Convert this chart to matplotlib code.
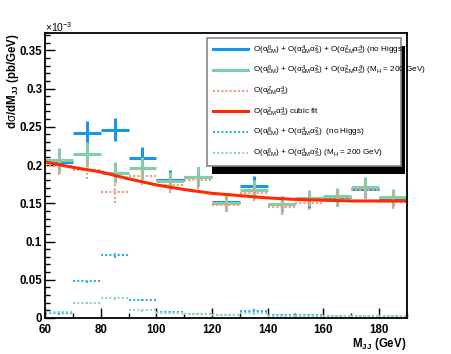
import matplotlib
matplotlib.use("Agg")
import matplotlib.pyplot as plt
from matplotlib.lines import Line2D
from matplotlib.patches import Rectangle
from matplotlib.ticker import MultipleLocator, FuncFormatter

plt.rcParams['font.family'] = ['Liberation Sans', 'DejaVu Sans']
plt.rcParams['mathtext.fontset'] = 'custom'
plt.rcParams['mathtext.rm'] = 'Liberation Sans'
plt.rcParams['mathtext.it'] = 'Liberation Sans'
plt.rcParams['mathtext.bf'] = 'Liberation Sans:bold'

# bins of M_JJ (GeV), values in units of 1e-3 pb/GeV
bin_lo = [60, 70, 80, 90, 100, 110, 120, 130, 140, 150, 160, 170, 180]
bin_w = 10

full_nohiggs = [0.204, 0.242, 0.246, 0.209, 0.181, 0.185, 0.152, 0.173, 0.149, 0.155, 0.158, 0.169, 0.157]
full_nohiggs_err = [0.013, 0.015, 0.015, 0.014, 0.012, 0.012, 0.011, 0.013, 0.011, 0.011, 0.011, 0.012, 0.011]
full_mh200 = [0.206, 0.214, 0.190, 0.196, 0.179, 0.185, 0.151, 0.168, 0.149, 0.157, 0.159, 0.171, 0.158]
full_mh200_err = [0.016, 0.016, 0.014, 0.014, 0.012, 0.012, 0.011, 0.012, 0.011, 0.011, 0.011, 0.013, 0.011]
qcd = [0.199, 0.194, 0.165, 0.186, 0.174, 0.180, 0.148, 0.164, 0.145, 0.151, 0.156, 0.167, 0.152]
qcd_err = [0.012, 0.012, 0.014, 0.012, 0.011, 0.011, 0.010, 0.011, 0.010, 0.010, 0.010, 0.011, 0.010]
fit_x = [60, 70, 80, 90, 100, 110, 120, 130, 140, 150, 160, 170, 180, 190]
fit_y = [0.204, 0.197, 0.191, 0.182, 0.174, 0.168, 0.163, 0.160, 0.157, 0.155, 0.154, 0.153, 0.153, 0.153]
ew_nohiggs = [0.006, 0.048, 0.082, 0.024, 0.008, 0.005, 0.004, 0.009, 0.004, 0.004, 0.003, 0.002, 0.003]
ew_nohiggs_err = [0.002, 0.002, 0.003, 0.002, 0.001, 0.001, 0.001, 0.005, 0.001, 0.001, 0.001, 0.001, 0.001]
ew_mh200 = [0.008, 0.020, 0.026, 0.010, 0.0065, 0.005, 0.004, 0.006, 0.003, 0.003, 0.003, 0.003, 0.003]
ew_mh200_err = [0.002, 0.002, 0.002, 0.002, 0.001, 0.001, 0.001, 0.002, 0.001, 0.001, 0.001, 0.001, 0.001]

labels = [
    r"O($\alpha^{6}_{EM}$) + O($\alpha^{4}_{EM}\alpha^{2}_{S}$) + O($\alpha^{2}_{EM}\alpha^{4}_{S}$) (no Higgs)",
    r"O($\alpha^{6}_{EM}$) + O($\alpha^{4}_{EM}\alpha^{2}_{S}$) + O($\alpha^{2}_{EM}\alpha^{4}_{S}$) (M$_{H}$ = 200 GeV)",
    r"O($\alpha^{2}_{EM}\alpha^{4}_{S}$)",
    r"O($\alpha^{2}_{EM}\alpha^{4}_{S}$) cubic fit",
    r"O($\alpha^{6}_{EM}$) + O($\alpha^{4}_{EM}\alpha^{2}_{S}$)  (no Higgs)",
    r"O($\alpha^{6}_{EM}$) + O($\alpha^{4}_{EM}\alpha^{2}_{S}$) (M$_{H}$ = 200 GeV)",
]

c_blue = '#1597ee'
c_green = '#7fcfa8'
c_salmon = '#f49a82'
c_red = '#ff2a00'
c_blue2 = '#36a8f2'
c_green2 = '#93d7b6'
dots = (0, (1, 1))

fig = plt.figure(figsize=(4.52, 3.54), dpi=100)
ax = fig.add_axes([0.0996, 0.1017, 0.8004, 0.8037])

xc = [b + bin_w / 2 for b in bin_lo]


def hist_err(y, err, color, lw, style):
    eb = ax.errorbar(xc, y, xerr=bin_w / 2, yerr=err, fmt='none', ecolor=color,
                     elinewidth=lw, capsize=0)
    for lc in eb[2]:
        lc.set_linestyle(style)
        lc.set_capstyle('butt')


hist_err(full_nohiggs, full_nohiggs_err, c_blue, 2.2, '-')
hist_err(full_mh200, full_mh200_err, c_green, 2.2, '-')
hist_err(qcd, qcd_err, c_salmon, 1.5, dots)
ax.plot(fit_x, fit_y, color=c_red, lw=2.2)
hist_err(ew_nohiggs, ew_nohiggs_err, c_blue2, 1.5, dots)
hist_err(ew_mh200, ew_mh200_err, c_green2, 1.5, dots)

ax.set_xlim(60, 190)
ax.set_ylim(0, 0.372)
ax.xaxis.set_major_locator(MultipleLocator(20))
ax.xaxis.set_minor_locator(MultipleLocator(10))
ax.yaxis.set_major_locator(MultipleLocator(0.05))
ax.yaxis.set_minor_locator(MultipleLocator(0.01))
ax.yaxis.set_major_formatter(FuncFormatter(lambda v, p: '%g' % round(v, 3)))
ax.tick_params(which='both', direction='in', top=False, right=False,
               labelsize=8.3)
ax.tick_params(which='major', length=7, width=1)
ax.tick_params(which='minor', length=3.6, width=1)
ax.tick_params(axis='y', pad=2)
ax.tick_params(axis='x', pad=4.5)
for lab in ax.get_xticklabels() + ax.get_yticklabels():
    lab.set_fontweight('bold')
for s in ax.spines.values():
    s.set_linewidth(1.3)

fig.text(45 / 452, 1 - 27 / 354, r"$\times$10$^{-3}$", fontsize=7.5, ha='left', va='center')
fig.text(13 / 452, 1 - 33 / 354, r"d$\sigma$/dM$_{\mathbf{JJ}}$ (pb/GeV)", rotation=90,
         fontsize=8.3, fontweight='bold', ha='center', va='top')
fig.text(406 / 452, 1 - 344 / 354, r"M$_{\mathbf{JJ}}$ (GeV)", fontsize=8.3,
         fontweight='bold', ha='right', va='center')

handles = [
    Line2D([], [], color=c_blue, lw=2.2),
    Line2D([], [], color=c_green, lw=2.2),
    Line2D([], [], color=c_salmon, lw=1.5, ls=dots),
    Line2D([], [], color=c_red, lw=2.2),
    Line2D([], [], color=c_blue2, lw=1.5, ls=dots),
    Line2D([], [], color=c_green2, lw=1.5, ls=dots),
]
leg = ax.legend(handles, labels, loc='upper left',
                bbox_to_anchor=(207.5 / 452, 1 - 37.5 / 354, (401 - 207.5) / 452, 0.0),
                bbox_transform=fig.transFigure, mode='expand', fontsize=5.9,
                handlelength=4.3, handletextpad=0.6, labelspacing=0.9,
                borderpad=0.7, borderaxespad=0, fancybox=False,
                edgecolor='#888888', framealpha=1)
leg.get_frame().set_linewidth(1.2)
leg.set_zorder(6)

fig.canvas.draw()
bb = leg.get_window_extent().transformed(fig.transFigure.inverted())
shadow = Rectangle((bb.x0 + 4 / 452, bb.y0 - 8 / 354), bb.width, bb.height,
                   transform=fig.transFigure, facecolor='black', edgecolor='none',
                   zorder=5.5, clip_on=False)
ax.add_artist(shadow)

fig.savefig('out.png', dpi=100)
